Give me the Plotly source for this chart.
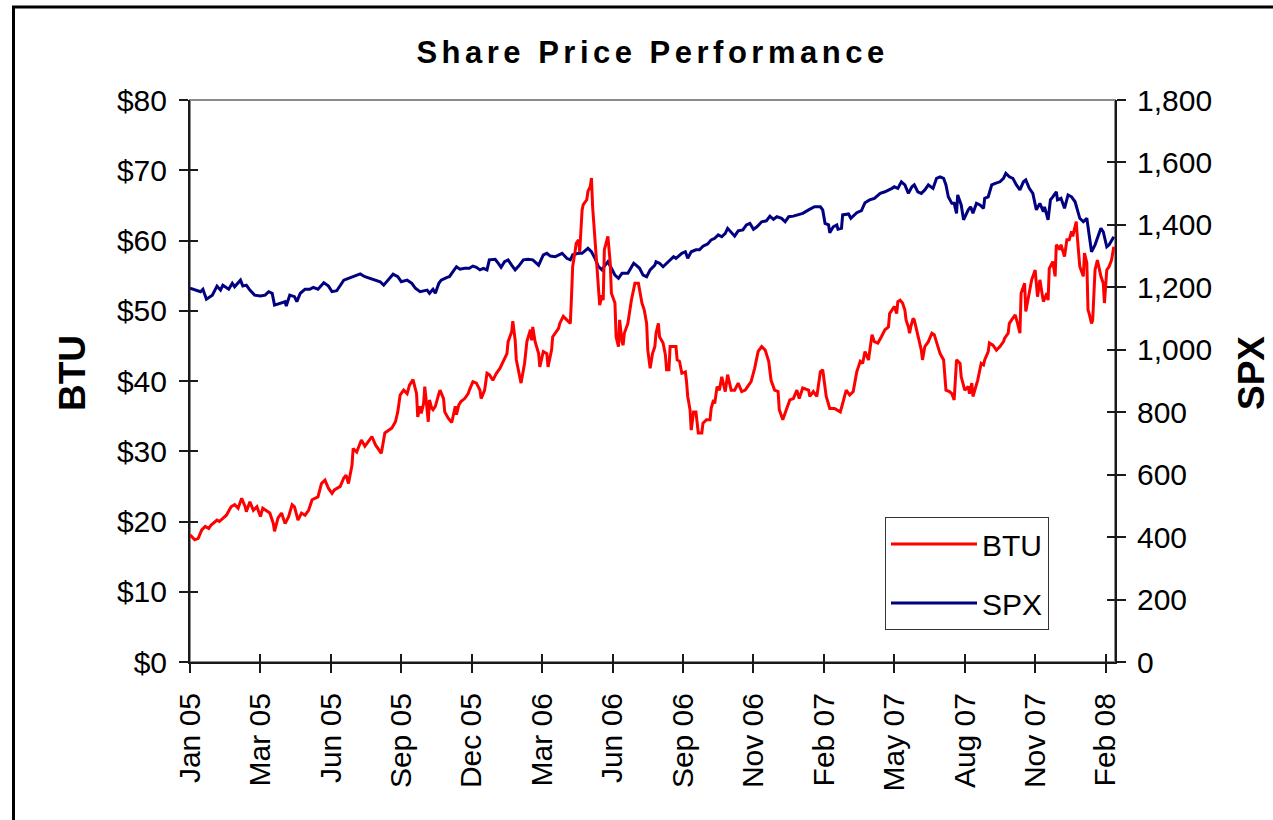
import plotly.graph_objects as go

# ---------------- data ----------------
# x axis: trading-day index from first day of Jan 2005; a label every 60 days
tick_days = [0, 60, 120, 180, 240, 300, 360, 420, 480, 540, 600, 660, 720, 780]
tick_labels = ["Jan 05", "Mar 05", "Jun 05", "Sep 05", "Dec 05", "Mar 06", "Jun 06",
               "Sep 06", "Nov 06", "Feb 07", "May 07", "Aug 07", "Nov 07", "Feb 08"]

btu_day = [
    0, 4, 7, 10, 13, 16, 18, 23, 25, 28, 31, 35, 38, 41, 44, 47, 48, 51, 54, 57, 60, 62, 65, 68, 71, 72,
    75, 78, 81, 84, 87, 89, 92, 95, 98, 101, 104, 106, 109, 112, 115, 118, 121, 123, 128, 131, 133, 135,
    138, 139, 142, 146, 149, 152, 155, 158, 160, 163, 166, 169, 172, 175, 177, 179, 182, 185, 187, 190,
    193, 194, 196, 197, 199, 200, 202, 203, 204, 206, 207, 209, 212, 213, 216, 217, 220, 223, 226, 227,
    229, 231, 234, 237, 238, 241, 244, 247, 248, 251, 253, 255, 258, 261, 264, 267, 270, 271, 274, 275,
    277, 278, 281, 282, 285, 287, 290, 291, 292, 294, 297, 298, 301, 304, 305, 308, 309, 311, 314, 315,
    318, 321, 324, 325, 326, 328, 329, 331, 332, 334, 335, 338, 339, 341, 342, 343, 346, 348, 349, 351,
    352, 353, 356, 358, 359, 362, 363, 365, 366, 368, 369, 370, 373, 376, 379, 382, 385, 387, 389, 390,
    392, 394, 396,
    397, 399, 400, 403, 405, 406, 408, 409, 412, 414, 415, 417, 419, 422, 423, 424, 426, 427, 429, 431,
    433, 436, 437, 440, 443, 444, 446, 447, 449, 451, 453, 456, 458, 461, 464, 467, 470, 473, 475, 478,
    481, 484, 487, 490, 493, 495, 498, 501, 502, 505, 508, 511, 514, 517, 519, 522, 527, 528, 531, 534,
    537, 539, 542, 545, 549, 554, 556, 559, 562, 565, 568, 571, 573, 575, 578, 581, 583, 586, 589, 592,
    595, 596,
    598, 600, 602, 603, 605, 607, 609, 610, 612, 613, 614, 616, 617, 619, 620, 623, 624, 626, 629, 632,
    634, 637, 639, 642, 643, 644, 647, 649, 651, 653, 656, 657, 660, 663, 664, 666, 667, 670, 671, 674,
    676, 677, 680, 681, 684, 687, 690, 693, 694, 697, 698, 700, 703, 705, 707, 708, 710, 711, 712, 714,
    717, 720, 721, 722, 724, 727, 730, 731, 732, 735, 737, 738, 741, 742, 745, 747, 749, 751, 752, 754,
    755, 756, 758, 761, 762, 764, 765, 766, 768, 769, 771, 773, 776, 778, 779, 781, 783, 785, 787,
]
btu_price = [
    18.1, 17.4, 17.6, 18.8, 19.3, 19.0, 19.5, 20.2, 20.0, 20.5, 20.9, 22.1, 22.4, 21.9, 23.3, 22.1, 21.4,
    22.8, 21.6, 22.1, 20.7, 21.9, 21.6, 21.2, 19.7, 18.6,
    20.5, 21.2, 19.7, 20.7, 22.4, 22.1, 20.2, 21.2, 20.9, 21.6, 23.1, 23.3, 23.5, 25.4, 25.9, 24.7, 24.0,
    24.5, 25.0, 26.2, 26.6, 25.4,
    28.0, 30.4, 29.9, 31.6, 30.7, 31.4, 32.1, 30.9, 30.4, 29.7, 32.6, 33.0, 33.3, 34.2, 35.6, 38.0, 38.7,
    38.2, 39.4, 40.2,
    38.2, 34.9, 36.4, 35.4, 36.8, 39.2, 36.4, 34.2, 37.3, 36.1, 35.9, 36.4, 38.2, 38.7, 37.5, 35.6, 34.7,
    34.1, 36.4, 35.2,
    36.6, 37.1, 37.5, 38.2, 38.7, 39.9, 39.7, 38.7, 37.5, 38.7, 41.1, 40.9, 40.1, 41.1, 41.8, 42.8, 43.9,
    45.6, 47.0, 48.5,
    45.8, 43.0, 40.6, 39.7, 42.5, 45.6, 47.3, 45.8, 47.7, 45.6, 43.9, 42.0, 44.2, 43.9, 42.0, 44.4, 46.3,
    46.8, 47.5, 48.2,
    49.2, 48.7, 48.2, 52.0, 56.3, 58.4, 59.6, 60.1, 58.4, 64.3, 65.1, 65.8, 67.0, 67.7, 68.9, 64.8, 58.2,
    52.5, 50.8, 52.2,
    51.5, 58.7, 60.6, 56.8, 52.5, 51.1, 46.3, 44.9, 48.7, 45.6, 45.1, 46.8, 48.2, 51.5, 53.9, 53.9, 51.1,
    50.1, 48.2, 44.4,
    41.8, 43.9, 44.9,
    46.8, 48.2, 46.3, 45.4, 43.7, 41.6, 41.6, 44.9, 44.9, 44.9, 43.0, 42.8, 41.1, 41.3, 39.9, 37.8, 35.9,
    33.0, 35.6, 35.6,
    32.6, 32.6, 34.0, 34.5, 34.5, 36.1, 37.3, 36.8, 39.2, 38.7, 40.6, 38.5, 40.9, 38.7, 38.7, 39.7, 38.5,
    38.7, 39.2, 39.9,
    41.8, 44.2, 44.9, 44.4, 42.8, 40.1, 38.7, 38.5, 35.9, 34.5, 35.9, 37.3, 37.5, 38.7, 37.5, 39.0, 38.7,
    37.8, 38.5, 37.8,
    41.3, 41.6, 37.8, 36.1, 36.1, 35.6, 36.8, 38.7, 38.0, 38.5, 41.3, 42.8, 42.5, 44.2, 43.0, 46.6, 45.6,
    45.4, 46.3, 47.3,
    47.7, 49.6,
    50.1, 50.6, 49.6, 51.3, 51.5, 51.1, 50.1, 48.7, 47.7, 46.8, 47.7, 48.9, 48.7, 47.3, 46.3, 44.4, 43.0,
    44.9, 45.6, 46.8,
    46.6, 44.9, 43.9, 43.0, 40.1, 38.7, 38.5, 38.2, 37.3, 43.0, 42.5, 40.6, 38.7, 39.2, 38.2, 39.7, 37.8,
    39.7, 40.1, 42.5,
    42.3, 43.0, 44.2, 45.4, 45.1, 44.4, 44.9, 45.6, 46.1, 46.8, 48.2, 48.7, 49.4, 48.2, 46.8, 52.5, 53.4,
    53.9, 49.9, 51.5,
    54.4, 55.8, 53.9, 52.0, 54.4, 51.3, 52.5, 51.5, 56.0, 57.0, 54.9, 59.4, 58.7, 59.4, 57.7, 60.1, 60.1,
    61.3, 60.6, 62.2,
    62.7, 60.3, 56.3, 54.9, 58.2, 56.8, 50.1, 49.6, 48.2, 48.7, 55.8, 57.2, 54.9, 53.9, 51.1, 55.8, 56.3,
    57.2, 59.1,
]

spx_day = [
    0, 4, 9, 11, 14, 19, 23, 26, 28, 33, 36, 38, 43, 45, 48, 51, 55, 60, 64, 67, 70, 72, 77, 81, 82, 85,
    89, 91, 94, 98, 102, 105, 109, 114, 118, 121, 125, 128, 131, 135, 139, 145, 149, 153, 158, 162, 165,
    169, 173, 177, 180, 185, 189, 192, 196,
    202, 204, 207, 209, 212, 214, 219, 221, 224, 227, 230, 234, 238, 241, 244, 247, 250, 253, 255, 260,
    263, 265, 268, 271, 274, 277, 280, 284, 288, 292, 297, 301, 304, 307, 311, 314, 317, 321, 324, 326,
    331, 334, 337, 339, 342, 345, 348, 351, 353, 356, 359, 362, 365, 368, 373, 378, 380, 383, 386, 389,
    392, 396,
    397, 400, 403, 406, 409, 412, 414, 419, 422, 424, 427, 431, 434, 437, 441, 444, 447, 450, 453, 456,
    458, 461, 464, 467, 471, 474, 477, 480, 483, 487, 491, 494, 497, 500, 504, 507, 510, 514, 518, 522,
    527, 529, 532, 537, 539, 541, 544, 545, 548, 551, 552, 555, 556, 561, 563, 568, 572, 575, 579, 583,
    588, 592, 596,
    598, 600, 603, 606, 609, 612, 615, 617, 620, 623, 626, 629, 633, 636, 639, 642, 644, 646, 649, 651,
    653, 654, 657, 659, 663, 665, 667, 670, 673, 676, 677, 680, 683, 686, 690, 693, 695, 698, 701, 704,
    707, 710, 712, 715, 718, 721, 724, 727, 728, 731, 733, 735, 738, 739, 742, 745, 748, 751, 754, 758,
    761, 764, 766, 768, 771, 773, 776, 778, 781, 783, 786, 787,
]
spx_level = [
    1197, 1191, 1186, 1194, 1162, 1175, 1204, 1191, 1207, 1194, 1213, 1202, 1223, 1204, 1207, 1191, 1175,
    1172, 1175, 1186, 1181, 1143, 1149, 1154, 1140, 1175,
    1170, 1154, 1181, 1194, 1194, 1200, 1194, 1215, 1204, 1186, 1189, 1204, 1223, 1229, 1234, 1243, 1234,
    1229, 1223, 1218, 1207,
    1223, 1242, 1234, 1218, 1223, 1213, 1197, 1186,
    1191, 1181, 1194, 1181, 1213, 1223, 1232, 1234, 1250, 1266, 1258, 1261, 1261, 1268, 1264, 1256, 1261,
    1256, 1288, 1290,
    1275, 1264, 1282, 1288, 1271, 1256, 1268, 1288, 1290, 1288, 1271, 1304, 1309, 1300, 1298, 1304, 1309,
    1293, 1288, 1304,
    1309, 1309, 1320, 1325, 1314, 1293, 1266, 1256, 1268, 1282, 1261, 1239, 1229, 1245, 1245, 1277, 1271,
    1261, 1239, 1234,
    1256, 1271,
    1282, 1277, 1266, 1277, 1285, 1298, 1293, 1309, 1314, 1293, 1314, 1320, 1320, 1332, 1339, 1352, 1357,
    1368, 1362, 1373,
    1389, 1378, 1364, 1381, 1384, 1400, 1405, 1386, 1394, 1410, 1413, 1428, 1418, 1426, 1421, 1410, 1426,
    1428, 1432, 1437,
    1448, 1453, 1458, 1458, 1448, 1405, 1400, 1375, 1394, 1400, 1386, 1389, 1432, 1435, 1421, 1439, 1446,
    1471, 1480, 1485,
    1501, 1506, 1512,
    1517, 1522, 1517, 1538, 1528, 1501, 1522, 1528, 1506, 1501, 1512, 1528, 1517, 1549, 1554, 1549, 1528,
    1490, 1469, 1469,
    1437, 1496, 1464, 1416, 1448, 1458, 1437, 1469, 1464, 1453, 1485, 1490, 1528, 1533, 1538, 1549, 1565,
    1554, 1549, 1528,
    1512, 1538, 1544, 1517, 1501, 1448, 1469, 1442, 1458, 1416, 1480, 1490, 1506, 1480, 1485, 1453, 1496,
    1490, 1474, 1421,
    1410, 1421, 1368, 1314, 1336, 1357, 1389, 1378, 1330, 1336, 1357, 1362,
]

# ---------------- styling ----------------
FONT = "Liberation Sans, Arial, Helvetica, sans-serif"
AXIS_COLOR = "#1a1a1a"
X_RANGE = [0, 788]
BTU_RANGE = [0, 80]
SPX_RANGE = [0, 1800]

fig = go.Figure()
fig.add_trace(go.Scatter(x=btu_day, y=btu_price, name="BTU", mode="lines", yaxis="y2",
                         legendgroup="btu", line=dict(color="#FF0000", width=3)))
fig.add_trace(go.Scatter(x=spx_day, y=spx_level, name="SPX", mode="lines", yaxis="y",
                         legendgroup="spx", line=dict(color="#000080", width=3)))
# empty helper traces so the tick-only overlay axes get drawn
fig.add_trace(go.Scatter(x=[], y=[], xaxis="x2", yaxis="y", showlegend=False, hoverinfo="skip"))
fig.add_trace(go.Scatter(x=[], y=[], yaxis="y3", showlegend=False, hoverinfo="skip"))
fig.add_trace(go.Scatter(x=[], y=[], yaxis="y4", showlegend=False, hoverinfo="skip"))

tickfont = dict(family=FONT, size=30, color="#000000")

fig.update_layout(
    width=1273, height=820,
    margin=dict(l=190, r=158, t=100, b=158, autoexpand=False),
    paper_bgcolor="#FFFFFF", plot_bgcolor="#FFFFFF",
    font=dict(family=FONT, size=30, color="#000000"),
    showlegend=True,
    title=dict(text='<span style="letter-spacing:4.5px">Share Price Performance</span>',
               x=0.5, xref="paper", xanchor="center",
               y=1 - 52 / 820, yref="container", yanchor="middle",
               font=dict(family=FONT, size=31, color="#000000", weight="bold")),
    xaxis=dict(range=X_RANGE, tickmode="array", tickvals=tick_days, ticktext=tick_labels,
               tickangle=-90, ticks="outside", ticklen=9, tickwidth=1.5, tickcolor=AXIS_COLOR,
               ticklabelstandoff=8,
               showline=True, linecolor=AXIS_COLOR, linewidth=2, showgrid=False, zeroline=False,
               tickfont=tickfont, anchor="y", fixedrange=True),
    xaxis2=dict(range=X_RANGE, overlaying="x", anchor="y", side="bottom", tickmode="array",
                tickvals=tick_days, ticks="inside", ticklen=8, tickwidth=1.5, tickcolor=AXIS_COLOR,
                showticklabels=False, showline=False, showgrid=False, zeroline=False),
    yaxis=dict(range=SPX_RANGE, side="right", tickmode="linear", tick0=0, dtick=200,
               tickformat=",d", ticks="outside", ticklen=9, tickwidth=1.5, tickcolor=AXIS_COLOR,
               ticklabelstandoff=5,
               showline=True, linecolor=AXIS_COLOR, linewidth=2, showgrid=False, zeroline=False,
               tickfont=tickfont, anchor="x"),
    yaxis2=dict(range=BTU_RANGE, overlaying="y", side="left", tickmode="linear", tick0=0, dtick=10,
                tickprefix="$", ticks="outside", ticklen=9, tickwidth=1.5, tickcolor=AXIS_COLOR,
                ticklabelstandoff=6,
                showline=True, linecolor=AXIS_COLOR, linewidth=2, showgrid=False, zeroline=False,
                tickfont=tickfont, anchor="x"),
    yaxis3=dict(range=BTU_RANGE, overlaying="y", side="left", tickmode="linear", tick0=0, dtick=10,
                ticks="inside", ticklen=8, tickwidth=1.5, tickcolor=AXIS_COLOR, showticklabels=False,
                showline=False, showgrid=False, zeroline=False, anchor="x"),
    yaxis4=dict(range=SPX_RANGE, overlaying="y", side="right", tickmode="linear", tick0=0, dtick=200,
                ticks="inside", ticklen=8, tickwidth=1.5, tickcolor=AXIS_COLOR, showticklabels=False,
                showline=False, showgrid=False, zeroline=False, anchor="x"),
    legend=dict(x=(885 - 190) / 925, y=(662 - 517) / 562, xanchor="left", yanchor="top",
                bgcolor="#FFFFFF", bordercolor="#333333", borderwidth=1,
                font=dict(family=FONT, size=30, color="#000000"),
                itemwidth=86, traceorder="grouped", tracegroupgap=17),
    annotations=[
        dict(text="BTU", textangle=-90, x=(72 - 190) / 925, y=(662 - 373) / 562, xref="paper",
             yref="paper", showarrow=False, xanchor="center", yanchor="middle",
             font=dict(family=FONT, size=37, color="#000000", weight="bold")),
        dict(text="SPX", textangle=-90, x=(1251 - 190) / 925, y=(662 - 373) / 562, xref="paper",
             yref="paper", showarrow=False, xanchor="center", yanchor="middle",
             font=dict(family=FONT, size=37, color="#000000", weight="bold")),
    ],
    shapes=[
        # plot-area frame (grey), then outer chart border (black)
        dict(type="rect", xref="paper", yref="paper", x0=0, y0=0, x1=1, y1=1,
             line=dict(color="#8c8c8c", width=2), layer="below"),
        dict(type="rect", xref="paper", yref="paper",
             x0=(13.5 - 190) / 925, y0=(662 - 835) / 562, x1=(1290 - 190) / 925, y1=(662 - 7) / 562,
             line=dict(color="#000000", width=3), layer="above"),
    ],
)

# remove the default page margin so the figure sits at the window's top-left corner
fig.write_html("out.html", config={"displayModeBar": False},
               post_script="document.body.style.margin='0px';")
